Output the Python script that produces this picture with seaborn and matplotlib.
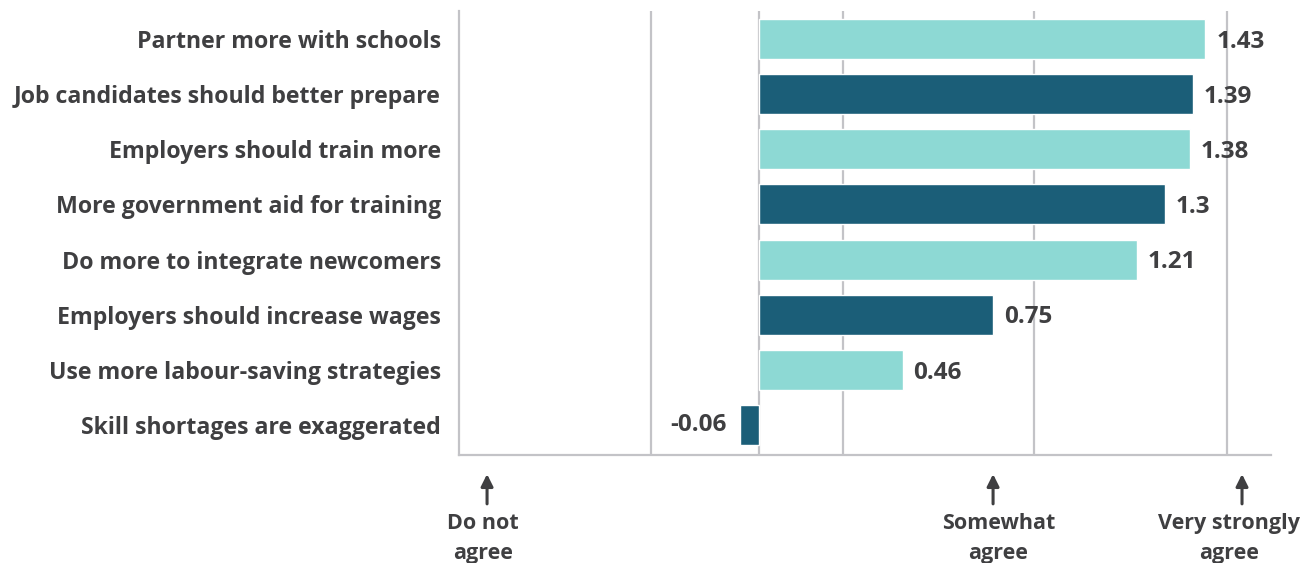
import matplotlib
matplotlib.use("Agg")
import matplotlib.pyplot as plt
import seaborn as sns
import pandas as pd

# Survey responses: average agreement score per proposed remedy
statements = [
    "Partner more with schools",
    "Job candidates should better prepare",
    "Employers should train more",
    "More government aid for training",
    "Do more to integrate newcomers",
    "Employers should increase wages",
    "Use more labour-saving strategies",
    "Skill shortages are exaggerated",
]
scores = [1.43, 1.39, 1.38, 1.3, 1.21, 0.75, 0.46, -0.06]
value_labels = ["1.43", "1.39", "1.38", "1.3", "1.21", "0.75", "0.46", "-0.06"]

# Scale anchors shown beneath the axis
scale_labels = ["Do not\nagree", "Somewhat\nagree", "Very strongly\nagree"]
scale_positions = [-0.872, 0.75, 1.548]
scale_text_positions = [-0.885, 0.767, 1.506]

LIGHT = "#8DD9D4"
DARK = "#1B5E78"
TEXT = "#3F3F41"
GRID = "#C3C3C7"

sns.set_theme(style="white")
plt.rcParams["font.family"] = ["Open Sans", "DejaVu Sans"]

df = pd.DataFrame({"statement": statements, "score": scores})
palette = {s: (LIGHT if i % 2 == 0 else DARK) for i, s in enumerate(statements)}

fig = plt.figure(figsize=(13.14, 5.63), dpi=100)
ax = fig.add_axes([0.3493, 0.1918, 0.6180, 0.7887])

# Vertical reference lines behind the bars
for gx in [-0.346, 0.0, 0.269, 0.881, 1.5]:
    ax.axvline(gx, color=GRID, lw=1.6, zorder=0)

sns.barplot(
    data=df, x="score", y="statement", hue="statement", palette=palette,
    orient="h", width=0.725, legend=False, saturation=1, ax=ax, zorder=2,
)

ax.set_xlim(-0.962, 1.641)
ax.set_ylim(7.544, -0.508)
ax.set_xticks([])
ax.set_xlabel("")
ax.set_ylabel("")
ax.tick_params(axis="y", length=0, pad=13, labelsize=16.7, labelcolor=TEXT)
for lab in ax.get_yticklabels():
    lab.set_fontweight("bold")

for side in ["top", "right"]:
    ax.spines[side].set_visible(False)
for side in ["left", "bottom"]:
    ax.spines[side].set_color(GRID)
    ax.spines[side].set_linewidth(1.6)

# Value labels at the end of each bar
for i, (v, txt) in enumerate(zip(scores, value_labels)):
    if v >= 0:
        ax.text(v + 0.035, i + 0.05, txt, ha="left", va="center",
                fontsize=17.5, fontweight="bold", color=TEXT, zorder=3)
    else:
        ax.text(v - 0.045, i + 0.0, txt, ha="right", va="center",
                fontsize=17.5, fontweight="bold", color=TEXT, zorder=3)

# Arrows and captions for the agreement scale
trans = ax.get_xaxis_transform()
for x, xt, lab in zip(scale_positions, scale_text_positions, scale_labels):
    ax.annotate(
        "", xy=(x, -0.043), xytext=(x, -0.11), xycoords=trans, textcoords=trans,
        arrowprops=dict(arrowstyle="-|>,head_length=0.6,head_width=0.3",
                        color=TEXT, lw=2.2, shrinkA=0, shrinkB=0),
        annotation_clip=False,
    )
    ax.text(xt, -0.131, lab, transform=trans, ha="center", va="top",
            fontsize=15.5, fontweight="bold", color=TEXT, linespacing=1.55,
            clip_on=False)

fig.savefig("out.png", dpi=100)
